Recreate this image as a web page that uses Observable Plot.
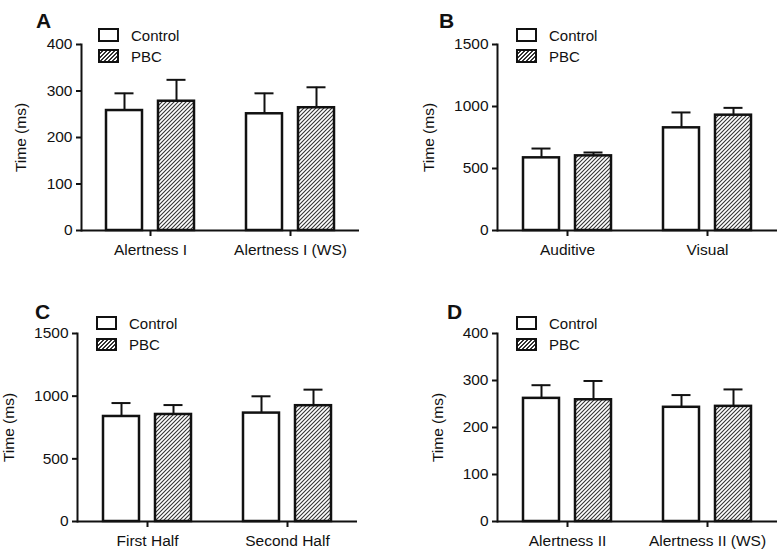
<!DOCTYPE html>
<html>
<head>
<meta charset="utf-8">
<script src="https://cdn.jsdelivr.net/npm/d3@7"></script>
<script src="https://cdn.jsdelivr.net/npm/@observablehq/plot@0.6"></script>
<style>
  html, body { margin: 0; padding: 0; background: white; }
  #root { position: relative; width: 779px; height: 552px; background: white; font-family: "Liberation Sans", Arial, sans-serif; overflow: hidden; }
  .panel { position: absolute; }
  .letter { position: absolute; font-weight: bold; font-size: 21px; line-height: 21px; color: #111; }
  .leg { position: absolute; display: flex; align-items: center; font-size: 15px; color: #111; }
  .sw { box-sizing: border-box; border: 2.5px solid #111; width: 21px; height: 13.5px; margin-right: 12px; }
</style>
</head>
<body>
<svg width="0" height="0" style="position:absolute">
  <defs>
    <pattern id="hatch" patternUnits="userSpaceOnUse" width="4" height="4">
      <rect width="4" height="4" fill="white"></rect>
      <path d="M-1,1 l2,-2 M0,4 l4,-4 M3,5 l2,-2" stroke="#333" stroke-width="1.1"></path>
    </pattern>
  </defs>
</svg>
<div id="root"></div>
<script>
// ---- Data ----
const seriesNames = ["Control", "PBC"];

const groupsA = ["Alertness I", "Alertness I (WS)"];
const controlA = [258, 251];
const controlSemA = [37, 44];
const pbcA = [278, 264];
const pbcSemA = [46, 44];
const ticksA = [0, 100, 200, 300, 400];

const groupsB = ["Auditive", "Visual"];
const controlB = [586, 828];
const controlSemB = [75, 124];
const pbcB = [602, 930];
const pbcSemB = [27, 59];
const ticksB = [0, 500, 1000, 1500];

const groupsC = ["First Half", "Second Half"];
const controlC = [838, 865];
const controlSemC = [107, 134];
const pbcC = [854, 924];
const pbcSemC = [75, 128];
const ticksC = [0, 500, 1000, 1500];

const groupsD = ["Alertness II", "Alertness II (WS)"];
const controlD = [262, 243];
const controlSemD = [28, 26];
const pbcD = [259, 245];
const pbcSemD = [40, 36];
const ticksD = [0, 100, 200, 300, 400];

const yLabel = "Time (ms)";

// ---- Layout ----
const panels = [
  {letter: "A", groups: groupsA, c: controlA, cs: controlSemA, p: pbcA, ps: pbcSemA, ticks: ticksA,
   left: 0, top: 0, width: 390, mL: 81, mR: 31, mT: 44, mB: 46, labelOffset: 67,
   letterPos: [36, 10], legPos: [98, 28.5, 49.5]},
  {letter: "B", groups: groupsB, c: controlB, cs: controlSemB, p: pbcB, ps: pbcSemB, ticks: ticksB,
   left: 390, top: 0, width: 389, mL: 107, mR: 2, mT: 44, mB: 46, labelOffset: 75,
   letterPos: [49, 10], legPos: [126, 28.5, 49.5]},
  {letter: "C", groups: groupsC, c: controlC, cs: controlSemC, p: pbcC, ps: pbcSemC, ticks: ticksC,
   left: 0, top: 276, width: 390, mL: 77, mR: 33, mT: 57, mB: 31, labelOffset: 75,
   letterPos: [35, 24.5], legPos: [96, 40.5, 62]},
  {letter: "D", groups: groupsD, c: controlD, cs: controlSemD, p: pbcD, ps: pbcSemD, ticks: ticksD,
   left: 390, top: 276, width: 389, mL: 107, mR: 2, mT: 57, mB: 31, labelOffset: 66,
   letterPos: [57, 24.5], legPos: [126, 40.5, 62]}
];

const root = document.getElementById("root");
const H = 276;

for (const P of panels) {
  const ctrlRows = P.groups.map((g, i) => ({group: g, series: seriesNames[0], mean: P.c[i], sem: P.cs[i]}));
  const pbcRows = P.groups.map((g, i) => ({group: g, series: seriesNames[1], mean: P.p[i], sem: P.ps[i]}));
  const R = P.width - P.mL - P.mR;
  const pi = 40 / 140;
  const po = (R / 140 - 2 + pi) / 2;
  const yMax = P.ticks[P.ticks.length - 1];

  const chart = Plot.plot({
    width: P.width,
    height: H,
    marginLeft: P.mL,
    marginRight: P.mR,
    marginTop: P.mT,
    marginBottom: P.mB,
    style: {fontFamily: "Liberation Sans, Arial, sans-serif", fontSize: "15.5px", color: "#111", background: "white", overflow: "visible"},
    x: {domain: P.groups, type: "band", paddingInner: pi, paddingOuter: po, align: 0.5, axis: null},
    y: {domain: [0, yMax], axis: null},
    marks: [
      Plot.barY(ctrlRows, {x: "group", y: "mean", fill: "white", stroke: "#111", strokeWidth: 2.5, insetLeft: 6, insetRight: 58}),
      Plot.barY(pbcRows, {x: "group", y: "mean", fill: "url(#hatch)", stroke: "#111", strokeWidth: 2.5, insetLeft: 58, insetRight: 6}),
      Plot.ruleX(ctrlRows, {x: "group", y1: "mean", y2: d => d.mean + d.sem, dx: -26, stroke: "#111", strokeWidth: 2}),
      Plot.ruleX(pbcRows, {x: "group", y1: "mean", y2: d => d.mean + d.sem, dx: 26, stroke: "#111", strokeWidth: 2}),
      Plot.tickY(ctrlRows, {x: "group", y: d => d.mean + d.sem, insetLeft: 14.5, insetRight: 66.5, stroke: "#111", strokeWidth: 2}),
      Plot.tickY(pbcRows, {x: "group", y: d => d.mean + d.sem, insetLeft: 66.5, insetRight: 14.5, stroke: "#111", strokeWidth: 2}),
      Plot.axisY({ticks: P.ticks, tickFormat: d => String(d), tickSize: 5, tickPadding: 4, strokeWidth: 2, label: yLabel, labelAnchor: "center", labelArrow: "none", labelOffset: P.labelOffset, fontSize: 15.5}),
      Plot.axisX({tickSize: 6, tickPadding: 7, strokeWidth: 2, label: null, fontSize: 15.5}),
      Plot.frame({anchor: "left", stroke: "#111", strokeWidth: 2}),
      Plot.ruleY([0], {stroke: "#111", strokeWidth: 2})
    ]
  });

  const div = document.createElement("div");
  div.className = "panel";
  div.style.left = P.left + "px";
  div.style.top = P.top + "px";
  div.style.width = P.width + "px";
  div.style.height = H + "px";
  div.appendChild(chart);

  const letter = document.createElement("div");
  letter.className = "letter";
  letter.textContent = P.letter;
  letter.style.left = P.letterPos[0] + "px";
  letter.style.top = P.letterPos[1] + "px";
  div.appendChild(letter);

  seriesNames.forEach((name, k) => {
    const leg = document.createElement("div");
    leg.className = "leg";
    leg.style.left = P.legPos[0] + "px";
    leg.style.top = (P.legPos[1 + k] - 1) + "px";
    leg.style.height = "15px";
    const sw = document.createElement("div");
    sw.className = "sw";
    if (k === 1) {
      sw.style.background = "repeating-linear-gradient(-45deg, #333 0px, #333 1px, #fff 1px, #fff 2.8px)";
    } else {
      sw.style.background = "white";
    }
    const t = document.createElement("span");
    t.textContent = name;
    leg.appendChild(sw);
    leg.appendChild(t);
    div.appendChild(leg);
  });

  root.appendChild(div);
}
</script>
</body>
</html>
